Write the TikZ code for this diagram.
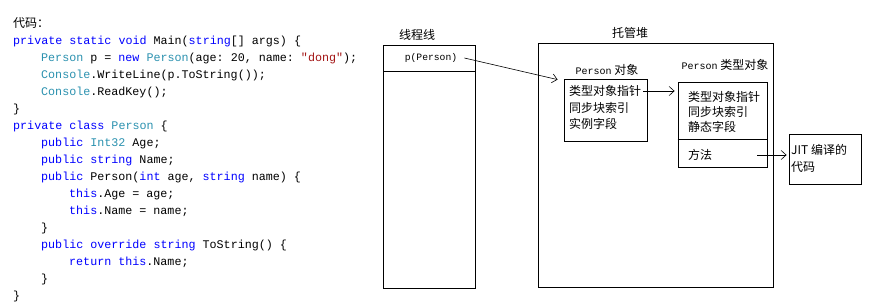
\documentclass[tikz,border=0pt]{standalone}
\usepackage{fontspec}
\setmainfont{Noto Sans CJK SC}
\setmonofont{Liberation Mono}
\usepackage{xcolor}
\usetikzlibrary{
  arrows.meta,
  positioning,
  calc
}
\definecolor{kwblue}{RGB}{0,0,255}
\definecolor{typeteal}{RGB}{43,145,175}
\definecolor{strred}{RGB}{163,21,21}
\newcommand{\kw}[1]{\textcolor{kwblue}{#1}}
\newcommand{\ty}[1]{\textcolor{typeteal}{#1}}
\newcommand{\strlit}[1]{\textcolor{strred}{#1}}
\newcommand{\codeind}{\hspace*{28pt}}
\newcommand{\smtt}[1]{{\ttfamily\fontsize{10}{12}\selectfont #1}}

\begin{document}
\begin{tikzpicture}[x=1pt,y=-1pt,
  box/.style ={draw,line width=0.8pt,inner sep=0pt},
  lbl/.style ={font=\fontsize{12}{16}\selectfont,inner sep=0pt},
  cell/.style={font=\fontsize{12}{16}\selectfont,inner sep=0pt,anchor=west},
  arr/.style ={-{Straight Barb[length=5pt,width=9pt]},line width=0.6pt},
]
\useasboundingbox (0,0) rectangle (869,305);

% code listing
\node[anchor=north west,inner sep=0pt,align=left,
      font=\ttfamily\fontsize{11.7}{17}\selectfont] (code) at (13,17) {%
{\rmfamily\fontsize{12}{17}\selectfont 代码：}\\
\kw{private static void} Main(\kw{string}[] args) \{\\
\codeind\ty{Person} p = \kw{new} \ty{Person}(age: 20, name: \strlit{"dong"});\\
\codeind\ty{Console}.WriteLine(p.ToString());\\
\codeind\ty{Console}.ReadKey();\\
\}\\
\kw{private class} \ty{Person} \{\\
\codeind\kw{public} \ty{Int32} Age;\\
\codeind\kw{public string} Name;\\
\codeind\kw{public} Person(\kw{int} age, \kw{string} name) \{\\
\codeind\codeind\kw{this}.Age = age;\\
\codeind\codeind\kw{this}.Name = name;\\
\codeind\}\\
\codeind\kw{public override string} ToString() \{\\
\codeind\codeind\kw{return this}.Name;\\
\codeind\}\\
\}};

% thread stack
\node[lbl] (stacktitle) at (417,35) {线程线};
\node[box,minimum width=92pt,minimum height=243pt] (stack) at (429,166.5) {};
\node[box,minimum width=92pt,minimum height=26pt,anchor=north] (slot) at (stack.north) {};
\node[inner sep=0pt,font=\ttfamily\fontsize{9.7}{12}\selectfont] (pref) at (431,58) {p(Person)};

% managed heap
\node[lbl] (heaptitle) at (630,33) {托管堆};
\node[box,minimum width=235pt,minimum height=244pt] (heap) at (655.5,165) {};

% Person object
\node[lbl] (objlbl) at (607,70) {\smtt{Person} 对象};
\node[box,minimum width=83pt,minimum height=62pt] (obj) at (605.5,110) {};
\node[cell] (objptr)   at (569,91)  {类型对象指针};
\node[cell] (objsync)  at (569,108) {同步块索引};
\node[cell] (objfield) at (569,124) {实例字段};

% Person type object
\node[lbl] (typelbl) at (725,65) {\smtt{Person} 类型对象};
\node[box,minimum width=89pt,minimum height=85pt] (type) at (722.5,124.5) {};
\coordinate (typediv) at (722.5,139);
\draw[line width=0.8pt] (typediv -| type.west) -- (typediv -| type.east);
\node[cell] (typeptr)   at (688,97)  {类型对象指针};
\node[cell] (typesync)  at (688,112) {同步块索引};
\node[cell] (typefield) at (688,127) {静态字段};
\node[cell] (typemeth)  at (688,155) {方法};

% JIT code
\node[box,minimum width=72pt,minimum height=50pt] (jit) at (825,159) {};
\node[cell] (jit1) at (791,150) {JIT 编译的};
\node[cell] (jit2) at (791,167) {代码};

\draw[arr] ([xshift=7pt]pref.east) -- ([xshift=-6pt,yshift=-1pt]obj.north west);
\draw[arr] ([xshift=2pt]objptr.east) -- ([xshift=-3pt]objptr.east -| type.west);
\draw[arr] ([xshift=-10pt]typemeth.east -| type.east) -- ([xshift=-2pt]typemeth.east -| jit.west);
\end{tikzpicture}
\end{document}
